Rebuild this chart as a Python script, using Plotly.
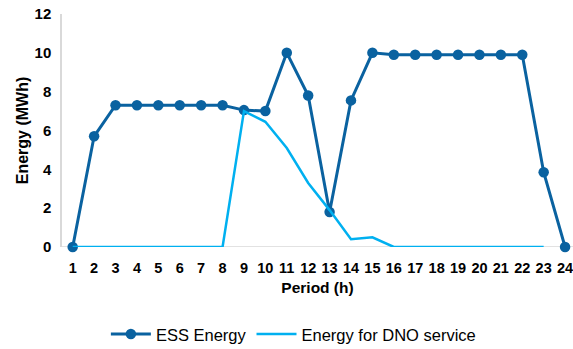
import plotly.graph_objects as go

periods = list(range(1, 25))
ess_energy = [0, 5.7, 7.3, 7.3, 7.3, 7.3, 7.3, 7.3, 7.05, 7.0, 10.0, 7.8,
              1.8, 7.55, 10.0, 9.9, 9.9, 9.9, 9.9, 9.9, 9.9, 9.9, 3.85, 0]
dno_periods = list(range(1, 24))
dno_energy = [0, 0, 0, 0, 0, 0, 0, 0, 7.0, 6.45, 5.1, 3.3,
              1.9, 0.4, 0.5, 0, 0, 0, 0, 0, 0, 0, 0]
y_ticks = [0, 2, 4, 6, 8, 10, 12]

font_family = "Liberation Sans, Arial, sans-serif"
ess_color = "#0A62A0"
dno_color = "#00B0F0"
axis_gray = "#D9D9D9"

fig = go.Figure()
fig.add_trace(go.Scatter(
    x=periods, y=ess_energy, name="ESS Energy", mode="lines+markers",
    line=dict(color=ess_color, width=3),
    marker=dict(color=ess_color, size=10.5, symbol="circle"),
    cliponaxis=False,
))
fig.add_trace(go.Scatter(
    x=dno_periods, y=dno_energy, name="Energy for DNO service", mode="lines",
    line=dict(color=dno_color, width=2.5),
    cliponaxis=False,
))

fig.update_layout(
    width=573, height=349,
    margin=dict(l=62, r=0, t=14, b=102),
    paper_bgcolor="white", plot_bgcolor="white",
    font=dict(family=font_family, size=14, color="black"),
    showlegend=True,
    legend=dict(orientation="h", x=0.512, xref="container", xanchor="center",
                y=0.042, yref="container", yanchor="middle",
                font=dict(size=16.5), itemwidth=40, tracegroupgap=0),
)
fig.update_xaxes(
    range=[0.5, 24.37], tickmode="array", tickvals=periods,
    ticktext=[f"<b>{p}</b>" for p in periods],
    tickfont=dict(size=14.5),
    showgrid=False, zeroline=False, showline=False,
    ticks="", ticklabelstandoff=10, ticklabeloverflow="allow",
    title=dict(text="<b>Period (h)</b>", standoff=7, font=dict(size=15.5)),
)
fig.update_yaxes(
    range=[0, 12], tickmode="array", tickvals=y_ticks,
    ticktext=[f"<b>{v}</b>" for v in y_ticks],
    tickfont=dict(size=15),
    showgrid=False, zeroline=False, showline=True, linecolor=axis_gray, linewidth=1.5,
    ticks="", ticklabelstandoff=6,
    title=dict(text="<b>Energy (MWh)</b>", standoff=2, font=dict(size=16)),
)
# horizontal baseline at zero
fig.add_shape(type="line", xref="paper", yref="y", x0=0, x1=1, y0=0, y1=0,
              line=dict(color=axis_gray, width=1.5), layer="below")

fig.write_html("out.html")
